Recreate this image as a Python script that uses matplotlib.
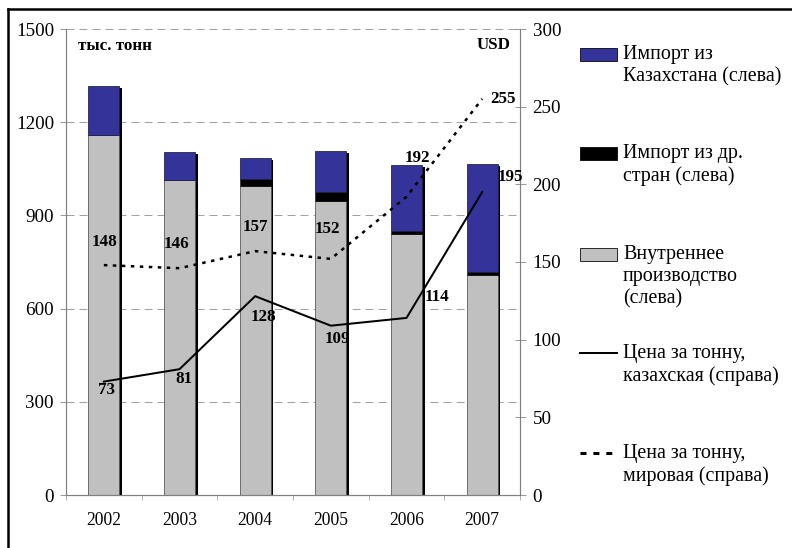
import matplotlib
matplotlib.use("Agg")
import matplotlib.pyplot as plt
import numpy as np
from matplotlib.patches import Rectangle
from matplotlib.lines import Line2D
import matplotlib.patheffects as pe

plt.rcParams['font.family'] = ['Liberation Serif', 'DejaVu Serif']

years = ['2002', '2003', '2004', '2005', '2006', '2007']
domestic = [1160, 1013, 995, 947, 839, 707]
import_other = [0, 0, 22, 28, 12, 12]
import_kz = [158, 92, 68, 133, 212, 348]
price_kz = [73, 81, 128, 109, 114, 195]
price_world = [148, 146, 157, 152, 192, 255]

legend_labels = ['Импорт из\nКазахстана (слева)',
                 'Импорт из др.\nстран (слева)',
                 'Внутреннее\nпроизводство\n(слева)',
                 'Цена за тонну,\nказахская (справа)',
                 'Цена за тонну,\nмировая (справа)']

BLUE = '#333399'
GRAY = '#C0C0C0'
SPINE = '#808080'

W, H = 792, 548
fig = plt.figure(figsize=(W / 72, H / 72), dpi=72)
ax = fig.add_axes([66 / W, 1 - 495 / H, (520 - 66) / W, (495 - 29) / H])
ax2 = ax.twinx()

x = np.arange(len(years)) + 0.5
bw = 0.41
dom = np.array(domestic)
oth = np.array(import_other)
kz = np.array(import_kz)
tot = dom + oth + kz

# shadow
sh = ax.bar(x, tot, bw, color='none', edgecolor='none', zorder=1)
for p in sh:
    p.set_path_effects([pe.SimplePatchShadow(offset=(2.5, -2.5), shadow_rgbFace='black', alpha=1.0)])
ax.bar(x, dom, bw, color=GRAY, edgecolor='#555555', linewidth=0.8, zorder=2)
ax.bar(x, oth, bw, bottom=dom, color='black', edgecolor='black', linewidth=0.5, zorder=2)
ax.bar(x, kz, bw, bottom=dom + oth, color=BLUE, edgecolor='#222244', linewidth=0.8, zorder=2)

ax.set_xlim(0, len(years))
ax.set_ylim(0, 1500)
ax.set_yticks([0, 300, 600, 900, 1200, 1500])
ax.yaxis.grid(True, color='#a0a0a0', linestyle=(0, (8, 5)), linewidth=1)
ax.set_axisbelow(True)
ax.set_xticks(x)
ax.set_xticklabels(years)
ax.set_xticks(np.arange(len(years) + 1), minor=True)
ax.tick_params(axis='x', which='major', length=0, pad=17, labelsize=17.5)
ax.tick_params(axis='x', which='minor', length=5, direction='out', color=SPINE)
ax.tick_params(axis='y', length=6, direction='out', color=SPINE, pad=6, labelsize=19)

ax2.set_ylim(0, 300)
ax2.set_yticks([0, 50, 100, 150, 200, 250, 300])
ax2.tick_params(axis='y', length=11, direction='inout', color=SPINE, pad=7, labelsize=19)

for a in (ax, ax2):
    a.spines['top'].set_visible(False)
    for s in ('left', 'right', 'bottom'):
        a.spines[s].set_color(SPINE)
        a.spines[s].set_linewidth(1.2)
    a.patch.set_visible(False)
ax.spines['right'].set_visible(False)
ax2.spines['left'].set_visible(False)
ax2.spines['bottom'].set_visible(False)
ax.set_zorder(1)
ax2.set_zorder(2)

ax2.plot(x, price_kz, color='black', linewidth=2, zorder=3)
ax2.plot(x, price_world, color='black', linewidth=2.5, linestyle=(0, (1.4, 2.2)), zorder=3)

kz_off = [(3, -8), (4, -10), (8, -21), (7, -13), (31, 21), (28, 15)]
w_off = [(1, 23), (-3, 24), (0, 24), (-3, 30), (11, 39), (21, 0)]
for xi, v, o in zip(x, price_kz, kz_off):
    ax2.annotate(str(v), (xi, v), xytext=o, textcoords='offset points',
                 ha='center', va='center', fontsize=17, fontweight='bold', zorder=5)
for xi, v, o in zip(x, price_world, w_off):
    ax2.annotate(str(v), (xi, v), xytext=o, textcoords='offset points',
                 ha='center', va='center', fontsize=17, fontweight='bold', zorder=5)

fig.text(78 / W, 1 - 46 / H, 'тыс. тонн', fontsize=17, fontweight='bold', ha='left', va='center')
fig.text(511 / W, 1 - 45 / H, 'USD', fontsize=17, fontweight='bold', ha='right', va='center')

# legend (manual)
lg = fig.add_axes([0, 0, 1, 1], facecolor='none')
lg.set_xlim(0, W)
lg.set_ylim(H, 0)
lg.axis('off')
entry_y = [54, 153, 254, 353, 453]
lg.add_patch(Rectangle((580, entry_y[0] - 6.5), 37, 13, facecolor=BLUE, edgecolor='black', linewidth=0.8))
lg.add_patch(Rectangle((580, entry_y[1] - 6.5), 37, 13, facecolor='black', edgecolor='black', linewidth=0.8))
lg.add_patch(Rectangle((580, entry_y[2] - 6.5), 37, 13, facecolor=GRAY, edgecolor='black', linewidth=0.8))
lg.add_line(Line2D([580, 617], [entry_y[3], entry_y[3]], color='black', linewidth=2))
lg.add_line(Line2D([580, 617], [entry_y[4], entry_y[4]], color='black', linewidth=3, linestyle=(0, (2, 2.3))))
for yy, lab in zip(entry_y, legend_labels):
    lg.text(623, yy - 9, lab, fontsize=20, ha='left', va='top', linespacing=1.22)

# frame
lg.add_line(Line2D([8, W], [9, 9], color='black', linewidth=2.5))
lg.add_line(Line2D([8, 8], [9, H], color='black', linewidth=2.5))

fig.savefig('out.png', dpi=72)
